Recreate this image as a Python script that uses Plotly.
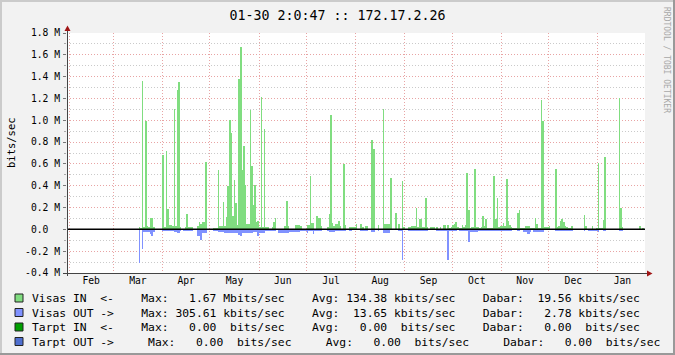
import plotly.graph_objects as go

# ---------------- data (Mbit/s, daily averages) ----------------
in_dates = [
    "2009-03-17", "2009-03-18", "2009-03-19", "2009-03-20", "2009-03-21", "2009-03-22", "2009-03-23",
    "2009-03-24", "2009-03-25", "2009-03-26",
    "2009-04-01", "2009-04-02", "2009-04-03", "2009-04-04", "2009-04-05", "2009-04-06", "2009-04-07",
    "2009-04-08", "2009-04-09", "2009-04-10", "2009-04-11", "2009-04-12", "2009-04-15", "2009-04-16",
    "2009-04-17", "2009-04-18", "2009-04-19", "2009-04-23", "2009-04-24", "2009-04-25", "2009-04-26",
    "2009-04-27", "2009-04-28",
    "2009-05-03", "2009-05-04", "2009-05-05", "2009-05-06", "2009-05-07", "2009-05-08", "2009-05-09",
    "2009-05-10", "2009-05-11", "2009-05-12", "2009-05-13", "2009-05-14", "2009-05-15", "2009-05-16",
    "2009-05-17", "2009-05-18", "2009-05-19", "2009-05-20", "2009-05-21", "2009-05-22", "2009-05-23",
    "2009-05-24", "2009-05-25", "2009-05-26", "2009-05-27", "2009-05-28", "2009-05-29", "2009-05-30",
    "2009-05-31",
    "2009-06-01", "2009-06-02", "2009-06-03", "2009-06-04", "2009-06-05", "2009-06-06", "2009-06-09",
    "2009-06-10", "2009-06-11", "2009-06-17", "2009-06-18", "2009-06-19", "2009-06-24", "2009-06-25",
    "2009-06-26", "2009-06-27",
    "2009-07-01", "2009-07-02", "2009-07-03", "2009-07-04", "2009-07-05", "2009-07-07", "2009-07-08",
    "2009-07-09", "2009-07-10", "2009-07-14", "2009-07-15", "2009-07-16", "2009-07-17", "2009-07-18",
    "2009-07-19", "2009-07-20", "2009-07-21", "2009-07-22", "2009-07-24", "2009-07-25", "2009-07-28",
    "2009-07-29", "2009-07-30", "2009-07-31",
    "2009-08-01", "2009-08-04", "2009-08-05", "2009-08-07", "2009-08-08", "2009-08-11", "2009-08-12",
    "2009-08-15", "2009-08-18", "2009-08-19", "2009-08-20", "2009-08-21", "2009-08-22", "2009-08-23",
    "2009-08-26", "2009-08-28", "2009-08-30", "2009-08-31",
    "2009-09-03", "2009-09-04", "2009-09-05", "2009-09-06", "2009-09-07", "2009-09-08", "2009-09-09",
    "2009-09-10", "2009-09-11", "2009-09-12", "2009-09-13", "2009-09-14", "2009-09-15", "2009-09-17",
    "2009-09-18", "2009-09-19", "2009-09-21", "2009-09-23", "2009-09-25", "2009-09-26", "2009-09-28",
    "2009-09-29", "2009-09-30",
    "2009-10-01", "2009-10-02", "2009-10-03", "2009-10-04", "2009-10-05", "2009-10-06", "2009-10-07",
    "2009-10-08", "2009-10-09", "2009-10-10", "2009-10-11", "2009-10-12", "2009-10-13", "2009-10-14",
    "2009-10-15", "2009-10-16", "2009-10-17", "2009-10-18", "2009-10-19", "2009-10-20", "2009-10-21",
    "2009-10-22", "2009-10-23", "2009-10-24", "2009-10-25", "2009-10-26", "2009-10-27", "2009-10-28",
    "2009-10-29", "2009-10-30", "2009-10-31",
    "2009-11-01", "2009-11-02", "2009-11-03", "2009-11-04", "2009-11-05", "2009-11-06", "2009-11-07",
    "2009-11-08", "2009-11-09", "2009-11-10", "2009-11-11", "2009-11-12", "2009-11-13", "2009-11-14",
    "2009-11-15", "2009-11-16", "2009-11-17", "2009-11-18", "2009-11-19", "2009-11-20", "2009-11-21",
    "2009-11-22", "2009-11-23", "2009-11-24", "2009-11-25", "2009-11-26", "2009-11-27", "2009-11-28",
    "2009-11-29", "2009-11-30",
    "2009-12-01", "2009-12-05", "2009-12-06", "2009-12-07", "2009-12-08", "2009-12-09", "2009-12-10",
    "2009-12-11", "2009-12-12", "2009-12-13", "2009-12-14", "2009-12-15", "2009-12-23", "2009-12-24",
    "2009-12-28", "2009-12-31",
    "2010-01-01", "2010-01-02", "2010-01-03", "2010-01-04", "2010-01-05", "2010-01-14", "2010-01-15",
    "2010-01-16", "2010-01-27", "2010-01-29",
]
in_values = [
    0.02, 0.015, 1.36, 0.025, 0.995, 0.03, 0.02,
    0.10, 0.10, 0.02,
    0.68, 0.02, 0.72, 0.19, 0.04, 0.04, 0.03,
    1.10, 0.03, 1.28, 1.35, 0.02, 0.02, 0.14,
    0.02, 0.02, 0.02, 0.03, 0.07, 0.05, 0.07,
    0.07, 0.62,
    0.01, 0.01, 0.015, 0.54, 0.03, 0.03, 0.25,
    0.03, 0.11, 0.40, 1.00, 0.88, 0.12, 0.45,
    0.24, 0.04, 1.38, 1.67, 0.54, 0.76, 0.41,
    0.05, 0.05, 1.09, 0.58, 0.22, 0.41, 0.07,
    0.08,
    0.02, 1.21, 0.02, 0.92, 0.02, 0.02, 0.02,
    0.07, 0.10, 0.03, 0.26, 0.03, 0.04, 0.04,
    0.04, 0.03,
    0.04, 0.04, 0.49, 0.055, 0.055, 0.12, 0.10,
    0.10, 0.03, 0.02, 0.14, 1.05, 0.06, 0.03,
    0.05, 0.05, 0.08, 0.03, 0.60, 0.04, 0.02,
    0.02, 0.02, 0.02,
    0.05, 0.05, 0.02, 0.03, 0.03, 0.82, 0.74,
    0.04, 1.10, 0.05, 0.05, 0.05, 0.05, 0.47,
    0.15, 0.05, 0.44, 0.02,
    0.02, 0.02, 0.03, 0.03, 0.03, 0.20, 0.02,
    0.095, 0.095, 0.02, 0.02, 0.29, 0.02, 0.02,
    0.02, 0.02, 0.02, 0.02, 0.04, 0.04, 0.04,
    0.012, 0.02,
    0.04, 0.05, 0.07, 0.02, 0.01, 0.01, 0.04,
    0.02, 0.04, 0.52, 0.18, 0.01, 0.02, 0.02,
    0.55, 0.02, 0.02, 0.01, 0.02, 0.12, 0.03,
    0.095, 0.01, 0.01, 0.01, 0.01, 0.49, 0.095,
    0.29, 0.02, 0.03,
    0.03, 0.06, 0.03, 0.46, 0.08, 0.04, 0.02,
    0.01, 0.01, 0.01, 0.15, 0.18, 0.01, 0.01,
    0.01, 0.03, 0.03, 0.03, 0.01, 0.01, 0.01,
    0.10, 0.05, 0.01, 0.01, 1.19, 0.99, 0.02,
    0.02, 0.02,
    0.03, 0.55, 0.02, 0.03, 0.075, 0.095, 0.07,
    0.03, 0.02, 0.01, 0.01, 0.03, 0.13, 0.03,
    0.03, 0.01,
    0.61, 0.01, 0.01, 0.09, 0.66, 1.20, 0.20,
    0.02, 0.03, 0.01,
]

out_dates = [
    "2009-03-17", "2009-03-19", "2009-03-20", "2009-03-21", "2009-03-22", "2009-03-23", "2009-03-24",
    "2009-03-25", "2009-03-26",
    "2009-04-01", "2009-04-02", "2009-04-03", "2009-04-04", "2009-04-05", "2009-04-06", "2009-04-07",
    "2009-04-08", "2009-04-09", "2009-04-10", "2009-04-11", "2009-04-12", "2009-04-14", "2009-04-15",
    "2009-04-16", "2009-04-17", "2009-04-18", "2009-04-19", "2009-04-23", "2009-04-24", "2009-04-25",
    "2009-04-26", "2009-04-27", "2009-04-28",
    "2009-05-03", "2009-05-04", "2009-05-05", "2009-05-06", "2009-05-07", "2009-05-08", "2009-05-09",
    "2009-05-10", "2009-05-11", "2009-05-12", "2009-05-13", "2009-05-14", "2009-05-15", "2009-05-16",
    "2009-05-17", "2009-05-18", "2009-05-19", "2009-05-20", "2009-05-21", "2009-05-22", "2009-05-23",
    "2009-05-24", "2009-05-25", "2009-05-26", "2009-05-27", "2009-05-28", "2009-05-29", "2009-05-30",
    "2009-05-31",
    "2009-06-01", "2009-06-02", "2009-06-03", "2009-06-04", "2009-06-05", "2009-06-06", "2009-06-07",
    "2009-06-08", "2009-06-09", "2009-06-10", "2009-06-11", "2009-06-13", "2009-06-14", "2009-06-15",
    "2009-06-16", "2009-06-17", "2009-06-18", "2009-06-19", "2009-06-20", "2009-06-21", "2009-06-22",
    "2009-06-23", "2009-06-24", "2009-06-25", "2009-06-26", "2009-06-27", "2009-06-28", "2009-06-29",
    "2009-06-30",
    "2009-07-01", "2009-07-02", "2009-07-03", "2009-07-04", "2009-07-05", "2009-07-06", "2009-07-07",
    "2009-07-08", "2009-07-09", "2009-07-10", "2009-07-14", "2009-07-15", "2009-07-16", "2009-07-17",
    "2009-07-18", "2009-07-19", "2009-07-20", "2009-07-21", "2009-07-22", "2009-07-23", "2009-07-24",
    "2009-07-25", "2009-07-28", "2009-07-29",
    "2009-08-04", "2009-08-05", "2009-08-06", "2009-08-07", "2009-08-08", "2009-08-11", "2009-08-12",
    "2009-08-15", "2009-08-18", "2009-08-19", "2009-08-20", "2009-08-21", "2009-08-22", "2009-08-28",
    "2009-08-29", "2009-08-30",
    "2009-09-03", "2009-09-04", "2009-09-05", "2009-09-06", "2009-09-07", "2009-09-08", "2009-09-09",
    "2009-09-10", "2009-09-11", "2009-09-12", "2009-09-13", "2009-09-14", "2009-09-15", "2009-09-21",
    "2009-09-22", "2009-09-23", "2009-09-24", "2009-09-25", "2009-09-26", "2009-09-27", "2009-09-28",
    "2009-09-29", "2009-09-30",
    "2009-10-01", "2009-10-02", "2009-10-03", "2009-10-05", "2009-10-06", "2009-10-07", "2009-10-08",
    "2009-10-09", "2009-10-10", "2009-10-11", "2009-10-12", "2009-10-13", "2009-10-14", "2009-10-15",
    "2009-10-16", "2009-10-17", "2009-10-18", "2009-10-19", "2009-10-20", "2009-10-21", "2009-10-22",
    "2009-10-23", "2009-10-24", "2009-10-25", "2009-10-26", "2009-10-27", "2009-10-28", "2009-10-29",
    "2009-10-30", "2009-10-31",
    "2009-11-01", "2009-11-02", "2009-11-03", "2009-11-04", "2009-11-05", "2009-11-06", "2009-11-07",
    "2009-11-11", "2009-11-12", "2009-11-15", "2009-11-16", "2009-11-17", "2009-11-18", "2009-11-19",
    "2009-11-21", "2009-11-22", "2009-11-23", "2009-11-24", "2009-11-25", "2009-11-26", "2009-11-27",
    "2009-12-05", "2009-12-06", "2009-12-07", "2009-12-08", "2009-12-09", "2009-12-10", "2009-12-11",
    "2009-12-12", "2009-12-13", "2009-12-14", "2009-12-15", "2009-12-23", "2009-12-26", "2009-12-27",
    "2009-12-28", "2009-12-29", "2009-12-30", "2009-12-31",
    "2010-01-01", "2010-01-04", "2010-01-05", "2010-01-14", "2010-01-15", "2010-01-16",
]
out_values = [
    0.306, 0.18, 0.02, 0.02, 0.02, 0.02, 0.045,
    0.06, 0.02,
    0.012, 0.012, 0.012, 0.012, 0.012, 0.012, 0.012,
    0.025, 0.025, 0.034, 0.034, 0.015, 0.015, 0.015,
    0.015, 0.015, 0.015, 0.015, 0.06, 0.06, 0.10,
    0.034, 0.034, 0.034,
    0.018, 0.018, 0.018, 0.024, 0.024, 0.024, 0.024,
    0.03, 0.03, 0.03, 0.03, 0.03, 0.03, 0.03,
    0.03, 0.03, 0.055, 0.065, 0.03, 0.03, 0.03,
    0.03, 0.03, 0.037, 0.037, 0.02, 0.02, 0.02,
    0.06,
    0.037, 0.037, 0.037, 0.037, 0.018, 0.018, 0.018,
    0.018, 0.018, 0.018, 0.018, 0.03, 0.03, 0.03,
    0.03, 0.03, 0.03, 0.03, 0.025, 0.025, 0.025,
    0.025, 0.025, 0.025, 0.025, 0.012, 0.012, 0.012,
    0.012,
    0.034, 0.018, 0.018, 0.018, 0.043, 0.012, 0.012,
    0.012, 0.012, 0.012, 0.012, 0.025, 0.025, 0.025,
    0.025, 0.012, 0.012, 0.012, 0.012, 0.012, 0.012,
    0.012, 0.012, 0.012,
    0.012, 0.012, 0.012, 0.012, 0.012, 0.025, 0.025,
    0.012, 0.03, 0.03, 0.03, 0.03, 0.03, 0.012,
    0.012, 0.28,
    0.012, 0.012, 0.012, 0.012, 0.012, 0.012, 0.012,
    0.012, 0.012, 0.012, 0.012, 0.012, 0.012, 0.012,
    0.012, 0.012, 0.012, 0.012, 0.012, 0.012, 0.28,
    0.012, 0.012,
    0.012, 0.012, 0.012, 0.012, 0.012, 0.012, 0.012,
    0.012, 0.012, 0.115, 0.025, 0.025, 0.025, 0.025,
    0.025, 0.012, 0.012, 0.012, 0.012, 0.012, 0.012,
    0.012, 0.012, 0.012, 0.012, 0.012, 0.012, 0.012,
    0.012, 0.012,
    0.012, 0.012, 0.012, 0.012, 0.012, 0.012, 0.012,
    0.012, 0.012, 0.025, 0.025, 0.043, 0.043, 0.025,
    0.025, 0.025, 0.025, 0.025, 0.025, 0.025, 0.025,
    0.012, 0.012, 0.012, 0.012, 0.012, 0.012, 0.012,
    0.012, 0.012, 0.012, 0.012, 0.012, 0.012, 0.012,
    0.012, 0.012, 0.012, 0.012,
    0.025, 0.012, 0.012, 0.012, 0.012, 0.012,
]

y_tickvals = [-0.4, -0.2, 0.0, 0.2, 0.4, 0.6, 0.8, 1.0, 1.2, 1.4, 1.6, 1.8]
y_ticktext = ["-0.4 M", "-0.2 M", "0.0\u00a0\u00a0", "0.2 M", "0.4 M", "0.6 M",
              "0.8 M", "1.0 M", "1.2 M", "1.4 M", "1.6 M", "1.8 M"]
y_minorvals = [-0.3, -0.1, 0.1, 0.3, 0.5, 0.7, 0.9, 1.1, 1.3, 1.5, 1.7]

title_text = "01-30 2:0:47 :: 172.17.2.26"
y_label = "bits/sec"
watermark = "RRDTOOL / TOBI OETIKER"
legend_labels = [
    "Visas IN  <-    Max:   1.67 Mbits/sec    Avg: 134.38 kbits/sec    Dabar:  19.56 kbits/sec",
    "Visas OUT ->    Max: 305.61 kbits/sec    Avg:  13.65 kbits/sec    Dabar:   2.78 kbits/sec",
    "Tarpt IN  <-    Max:   0.00  bits/sec    Avg:   0.00  bits/sec    Dabar:   0.00  bits/sec",
    "Tarpt OUT ->     Max:   0.00  bits/sec     Avg:   0.00  bits/sec     Dabar:   0.00  bits/sec",
]

# ---------------- styles ----------------
FONT = "DejaVu Sans Mono"
W, H = 675, 355
ML, MR, MT, MB = 67, 30, 33, 82
PW, PH = W - ML - MR, H - MT - MB
legend_colors = ["#80DD80", "#8092FF", "#00A000", "#4F6FCF"]
IN_COLOR = "rgba(128,221,128,0.999)"
OUT_COLOR = "rgba(128,146,255,0.999)"
MGRID = "#E8A4A4"
GRID = "#CACACA"
DAY_MS = 86400000
X_RANGE = ["2009-01-30 17:40", "2010-01-30 17:40"]


def px(x):
    return (x - ML) / PW


def py(y):
    return (H - MB - y) / PH


fig = go.Figure()
fig.add_trace(go.Bar(x=in_dates, y=in_values, width=DAY_MS, offset=0,
                     marker=dict(color=IN_COLOR, line=dict(width=0)),
                     hoverinfo="skip"))
fig.add_trace(go.Bar(x=out_dates, y=[-v for v in out_values], width=DAY_MS, offset=0,
                     marker=dict(color=OUT_COLOR, line=dict(width=0)),
                     hoverinfo="skip"))

shapes = []
# frame
shapes.append(dict(type="rect", xref="paper", yref="paper", x0=px(0), x1=px(W), y0=py(2), y1=py(0),
                   fillcolor="#CBCBCB", line=dict(width=0), layer="above"))
shapes.append(dict(type="rect", xref="paper", yref="paper", x0=px(0), x1=px(2), y0=py(H), y1=py(0),
                   fillcolor="#CBCBCB", line=dict(width=0), layer="above"))
shapes.append(dict(type="rect", xref="paper", yref="paper", x0=px(0), x1=px(W), y0=py(H), y1=py(H - 2),
                   fillcolor="#999999", line=dict(width=0), layer="above"))
shapes.append(dict(type="rect", xref="paper", yref="paper", x0=px(W - 2), x1=px(W), y0=py(H), y1=py(0),
                   fillcolor="#999999", line=dict(width=0), layer="above"))
# zero rule
shapes.append(dict(type="line", xref="paper", yref="y", x0=0, x1=1, y0=0, y1=0,
                   line=dict(color="#000000", width=1.5), layer="above"))
# axis lines
shapes.append(dict(type="line", xref="paper", yref="paper", x0=px(67.5), x1=px(67.5), y0=py(276), y1=py(29),
                   line=dict(color="#444444", width=1), layer="above"))
shapes.append(dict(type="line", xref="paper", yref="paper", x0=px(63), x1=px(648), y0=py(273.5), y1=py(273.5),
                   line=dict(color="#444444", width=1), layer="above"))
# arrows
shapes.append(dict(type="path", xref="paper", yref="paper",
                   path=f"M {px(64.5)},{py(31)} L {px(70.5)},{py(31)} L {px(67.5)},{py(25.5)} Z",
                   fillcolor="#A01515", line=dict(width=0), layer="above"))
shapes.append(dict(type="path", xref="paper", yref="paper",
                   path=f"M {px(647)},{py(270.5)} L {px(647)},{py(276.5)} L {px(652.5)},{py(273.5)} Z",
                   fillcolor="#A01515", line=dict(width=0), layer="above"))

annotations = []
row_y = [298, 312.5, 327, 341.5]
for i, (lab, col) in enumerate(zip(legend_labels, legend_colors)):
    cy = row_y[i]
    shapes.append(dict(type="rect", xref="paper", yref="paper",
                       x0=px(15), x1=px(23), y0=py(cy + 4), y1=py(cy - 4),
                       fillcolor=col, line=dict(color="#222222", width=1), layer="above"))
    annotations.append(dict(text=lab.replace(" ", "\u00a0"), xref="paper", yref="paper",
                            x=px(30), y=py(cy), xanchor="left", yanchor="middle",
                            showarrow=False, font=dict(family=FONT, size=11.35, color="#000000")))

annotations.append(dict(text=y_label, xref="paper", yref="paper", x=px(11), y=py(143),
                        xanchor="center", yanchor="middle", textangle=-90, showarrow=False,
                        font=dict(family=FONT, size=10.5, color="#000000")))
annotations.append(dict(text=watermark.replace(" ", "\u00a0"), xref="paper", yref="paper",
                        x=px(667), y=py(60), xanchor="center", yanchor="middle", textangle=90,
                        showarrow=False, font=dict(family=FONT, size=8, color="#A8A8A8")))

fig.update_layout(
    width=W, height=H,
    margin=dict(l=ML, r=MR, t=MT, b=MB, pad=0),
    paper_bgcolor="#F2F2F2", plot_bgcolor="#FFFFFF",
    barmode="overlay", showlegend=False, bargap=0,
    font=dict(family=FONT, color="#000000"),
    title=dict(text=title_text, x=0.5, xref="container", xanchor="center",
               y=1 - 15 / H, yref="container", yanchor="middle",
               font=dict(family=FONT, size=13.3, color="#000000")),
    shapes=shapes, annotations=annotations,
    xaxis=dict(type="date", range=X_RANGE, tick0="2009-02-01", dtick="M1",
               tickformat="%b", ticklabelmode="period", ticks="",
               showgrid=True, gridcolor=MGRID, griddash="1px,2px", gridwidth=1,
               zeroline=False, showline=False, tickfont=dict(family=FONT, size=9.7),
               fixedrange=True),
    yaxis=dict(range=[-0.4, 1.8], tickmode="array", tickvals=y_tickvals, ticktext=y_ticktext,
               ticks="outside", ticklen=3, tickcolor="#777777", ticklabelstandoff=1,
               showgrid=True, gridcolor=MGRID, griddash="1px,2px", gridwidth=1,
               zeroline=False, showline=False, tickfont=dict(family=FONT, size=9.7),
               minor=dict(tickmode="array", tickvals=y_minorvals, showgrid=True,
                          gridcolor=GRID, griddash="1px,2px", ticks="outside", ticklen=2,
                          tickcolor="#AAAAAA"),
               fixedrange=True),
)

fig.write_html("out.html")
